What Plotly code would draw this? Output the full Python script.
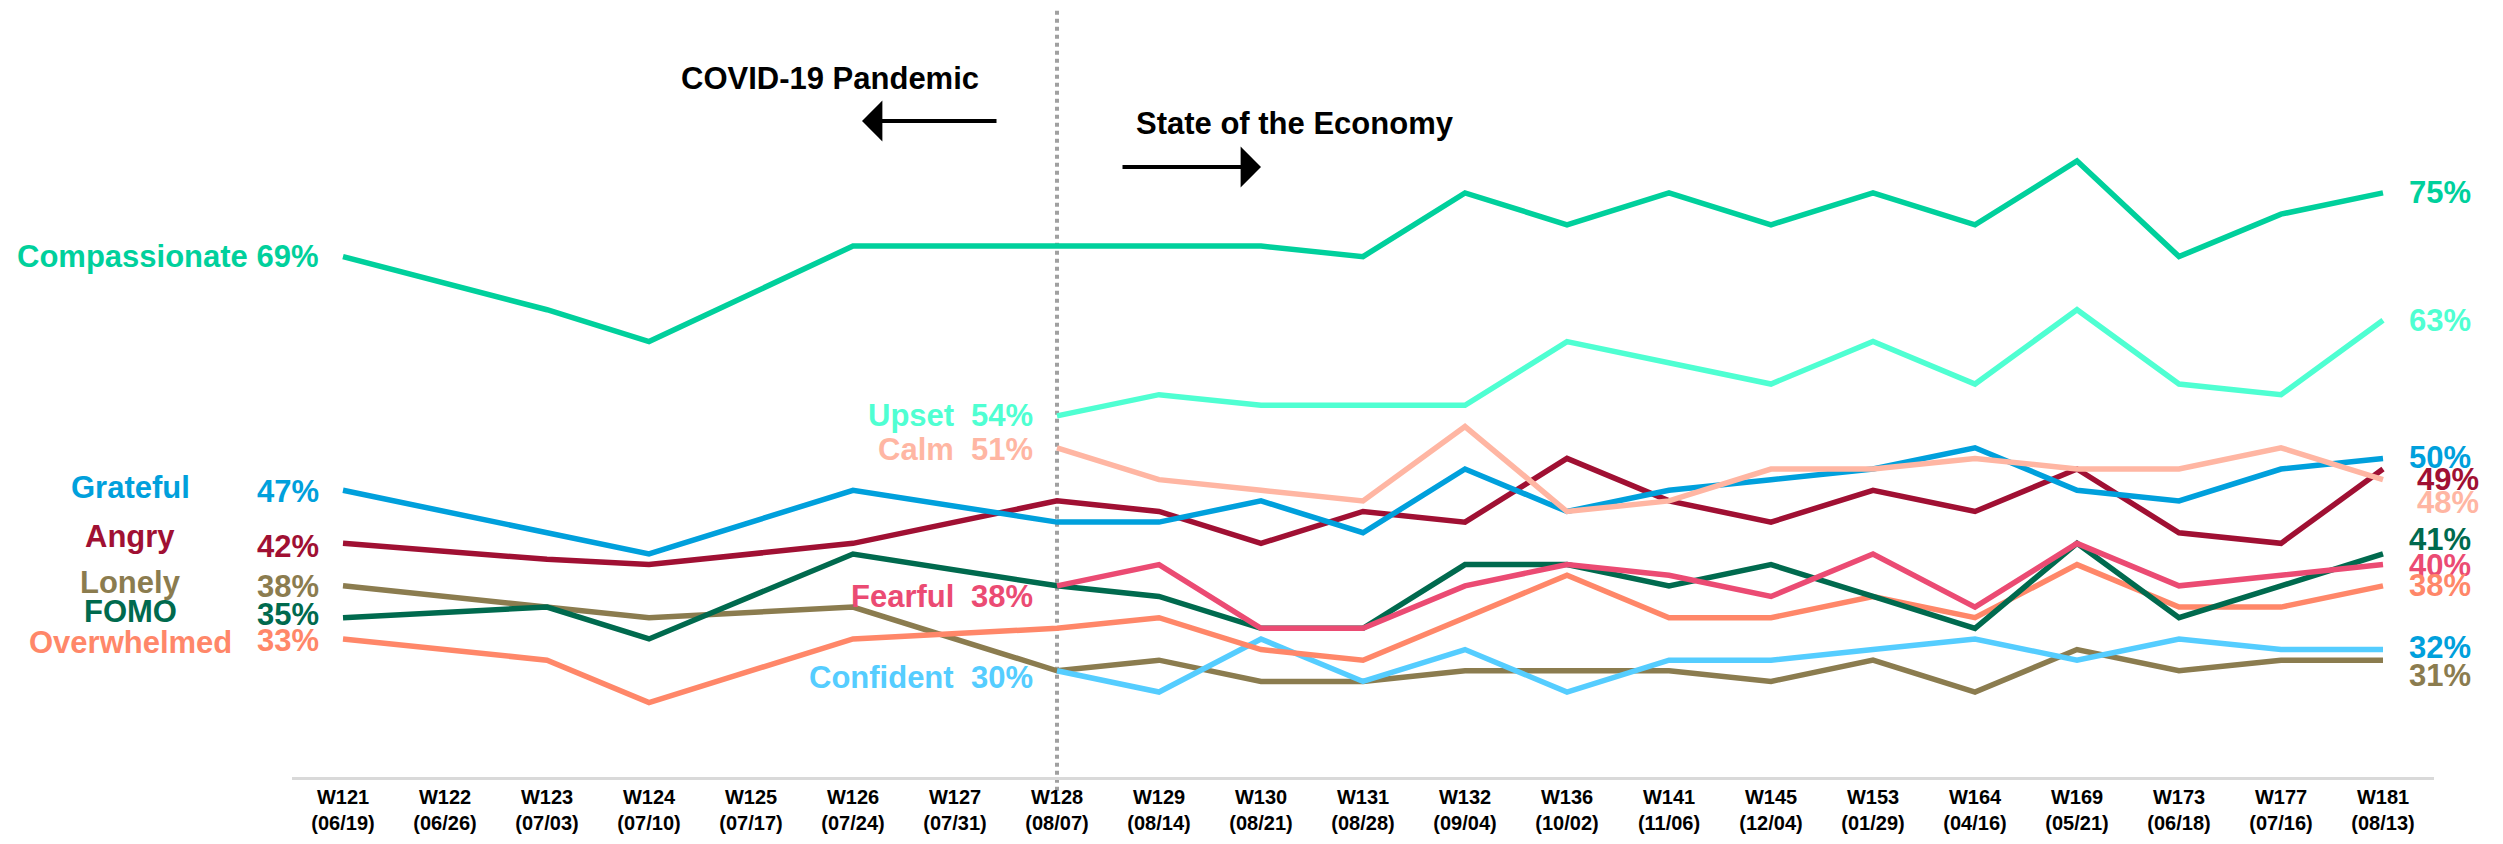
import plotly.graph_objects as go

# ---------------- data ----------------
waves = ["W121", "W122", "W123", "W124", "W125", "W126", "W127", "W128", "W129", "W130",
         "W131", "W132", "W136", "W141", "W145", "W153", "W164", "W169", "W173", "W177", "W181"]
dates = ["06/19", "06/26", "07/03", "07/10", "07/17", "07/24", "07/31", "08/07", "08/14", "08/21",
         "08/28", "09/04", "10/02", "11/06", "12/04", "01/29", "04/16", "05/21", "06/18", "07/16", "08/13"]
N = None
compassionate = [69, N, 64, 61, N, 70, N, 70, 70, 70, 69, 75, 72, 75, 72, 75, 72, 78, 69, 73, 75]
upset = [N, N, N, N, N, N, N, 54, 56, 55, 55, 55, 61, 59, 57, 61, 57, 64, 57, 56, 63]
calm = [N, N, N, N, N, N, N, 51, 48, 47, 46, 53, 45, 46, 49, 49, 50, 49, 49, 51, 48]
grateful = [47, N, 43, 41, N, 47, N, 44, 44, 46, 43, 49, 45, 47, 48, 49, 51, 47, 46, 49, 50]
angry = [42, N, 40.5, 40, N, 42, N, 46, 45, 42, 45, 44, 50, 46, 44, 47, 45, 49, 43, 42, 49]
lonely = [38, N, 36, 35, N, 36, N, 30, 31, 29, 29, 30, 30, 30, 29, 31, 28, 32, 30, 31, 31]
fomo = [35, N, 36, 33, N, 41, N, 38, 37, 34, 34, 40, 40, 38, 40, 37, 34, 42, 35, 38, 41]
overwhelmed = [33, N, 31, 27, N, 33, N, 34, 35, 32, 31, 35, 39, 35, 35, 37, 35, 40, 36, 36, 38]
fearful = [N, N, N, N, N, N, N, 38, 40, 34, 34, 38, 40, 39, 37, 41, 36, 42, 38, 39, 40]
confident = [N, N, N, N, N, N, N, 30, 28, 33, 29, 32, 28, 31, 31, 32, 33, 31, 33, 32, 32]

series = [
    ("Compassionate", compassionate),
    ("Upset", upset),
    ("Lonely", lonely),
    ("Confident", confident),
    ("Overwhelmed", overwhelmed),
    ("FOMO", fomo),
    ("Fearful", fearful),
    ("Angry", angry),
    ("Grateful", grateful),
    ("Calm", calm),
]

# ---------------- styles ----------------
colors = {
    "Compassionate": "#00D09C",
    "Upset": "#4FFFD2",
    "Calm": "#FFB6A3",
    "Grateful": "#00A0DC",
    "Angry": "#A01033",
    "Lonely": "#8B7C4F",
    "FOMO": "#006A4E",
    "Overwhelmed": "#FF8769",
    "Fearful": "#EB4B73",
    "Confident": "#55CDFF",
}
FONT = "Liberation Sans, Arial, sans-serif"
LBL = 31

# page (browser) pixel geometry; the html body has an 8px margin
OFF = 8
FW, FH = 2503 - 2 * OFF, 844 - 2 * OFF
L, R, T, B = 292, 2434, 8, 777   # plot area in page pixels


def px(x):
    return (x - L) / (R - L)


def py(y):
    return (B - y) / (B - T)


fig = go.Figure()
for name, vals in series:
    fig.add_trace(go.Scatter(
        x=waves, y=vals, mode="lines", name=name, connectgaps=True,
        line=dict(color=colors[name], width=5.5), showlegend=False,
    ))

ann = []


def lab(text, x, y, xshift, yshift, anchor, color, size=LBL):
    ann.append(dict(text=text, x=x, y=y, xref="x", yref="y", xshift=xshift, yshift=yshift,
                    xanchor=anchor, yanchor="middle", showarrow=False,
                    font=dict(family=FONT, size=size, color=color, weight="bold")))


def first(vals):
    for i, v in enumerate(vals):
        if v is not None:
            return waves[i], v


def fmt(v):
    return f"{round(v)}%"


sd = dict(series)

# left labels (W121): name centred, value right-aligned
left = {  # name: (name_yshift, value_yshift)
    "Grateful": (3, -1),
    "Angry": (7, -3),
    "Lonely": (3, -1),
    "FOMO": (6, 3),
    "Overwhelmed": (-4, -2),
}
x0, v = first(compassionate)
lab(f"Compassionate {fmt(v)}", x0, v, -22, 0, "right", colors["Compassionate"])
for name, (ny, vy) in left.items():
    x0, v = first(sd[name])
    lab(name, x0, v, -213, ny, "center", colors[name])
    lab(fmt(v), x0, v, -22, vy, "right", colors[name])

# middle labels (W128)
mid = {"Upset": 0, "Calm": -2, "Fearful": -11, "Confident": -7}
for name, dy in mid.items():
    x0, v = first(sd[name])
    lab(name, x0, v, -101, dy, "right", colors[name])
    lab(fmt(v), x0, v, -22, dy, "right", colors[name])

# right labels (W181)
right = {  # name: (xshift, yshift, color)
    "Compassionate": (24, 0, colors["Compassionate"]),
    "Upset": (24, 0, colors["Upset"]),
    "Grateful": (24, 1, colors["Grateful"]),
    "Angry": (32, -10, colors["Angry"]),
    "Calm": (32, -23, colors["Calm"]),
    "FOMO": (24, 14, colors["FOMO"]),
    "Fearful": (24, -1, colors["Fearful"]),
    "Overwhelmed": (24, 0, colors["Overwhelmed"]),
    "Confident": (24, 2, colors["Grateful"]),
    "Lonely": (24, -15, colors["Lonely"]),
}
for name, (dx, dy, col) in right.items():
    vals = sd[name]
    lab(fmt(vals[-1]), waves[-1], vals[-1], dx, dy, "left", col)

# period annotations
ann.append(dict(text="COVID-19 Pandemic", x=px(830), y=py(78), xref="paper", yref="paper",
                xanchor="center", yanchor="middle", showarrow=False,
                font=dict(family=FONT, size=LBL, color="#000000", weight="bold")))
ann.append(dict(text="State of the Economy", x=px(1295), y=py(123), xref="paper", yref="paper",
                xanchor="center", yanchor="middle", showarrow=False,
                font=dict(family=FONT, size=LBL, color="#000000", weight="bold")))
# arrows
ann.append(dict(text="", x=px(862), y=py(121), xref="paper", yref="paper",
                ax=136, ay=0, axref="pixel", ayref="pixel", showarrow=True,
                arrowhead=1, arrowsize=1.7, arrowwidth=4, arrowcolor="#000000", standoff=0))
ann.append(dict(text="", x=px(1261), y=py(167), xref="paper", yref="paper",
                ax=-140, ay=0, axref="pixel", ayref="pixel", showarrow=True,
                arrowhead=1, arrowsize=1.7, arrowwidth=4, arrowcolor="#000000", standoff=0))

fig.add_shape(type="line", xref="x", yref="paper", x0="W128", x1="W128", y0=-0.018, y1=1.0,
              line=dict(color="#A0A0A0", width=4, dash="dot"), layer="below")

fig.update_layout(
    width=FW, height=FH,
    margin=dict(l=L - OFF, r=FW - (R - OFF), t=T - OFF, b=FH - (B - OFF), pad=0, autoexpand=False),
    plot_bgcolor="white", paper_bgcolor="white",
    annotations=ann,
    xaxis=dict(
        type="category", range=[-0.5, len(waves) - 0.5], automargin=False,
        tickmode="array", tickvals=waves,
        ticktext=[f"{w}<br>({d})" for w, d in zip(waves, dates)],
        tickfont=dict(family=FONT, size=20, color="#000000", weight="bold"),
        ticklabelstandoff=0,
        showline=True, linecolor="#D9D9D9", linewidth=3,
        showgrid=False, zeroline=False, ticks="",
    ),
    yaxis=dict(range=[20, 20 + (B - T) / 10.62], visible=False, automargin=False,
               showgrid=False, zeroline=False),
)

fig.write_html("out.html")
